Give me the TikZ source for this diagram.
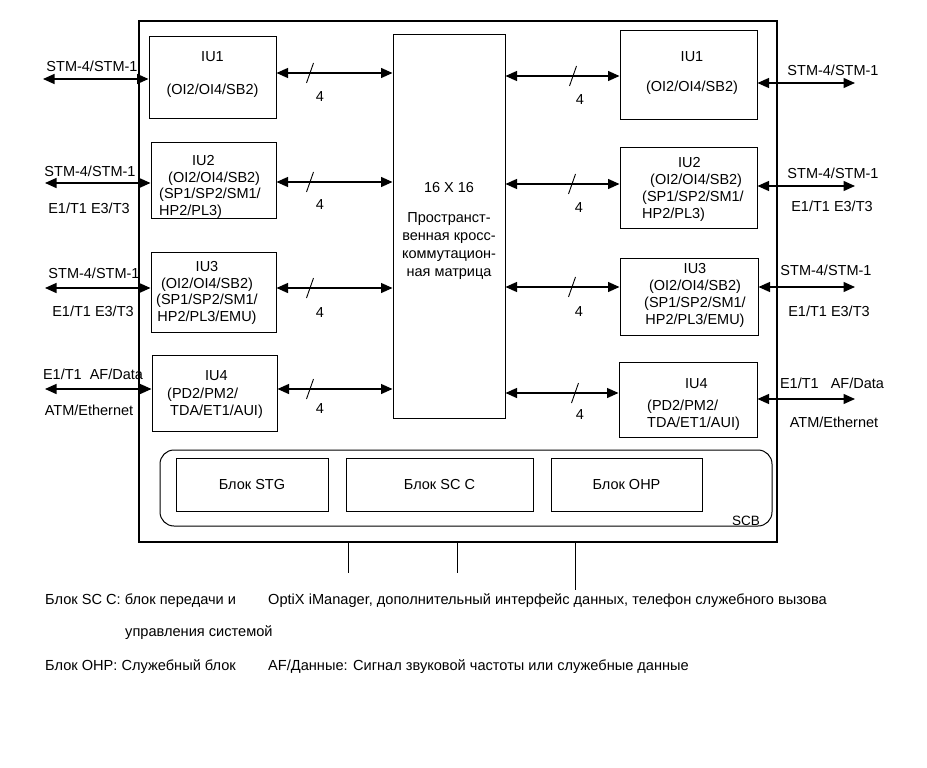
\documentclass[tikz,border=0pt]{standalone}
\usepackage{fontspec}
\setmainfont{Liberation Sans}
\usetikzlibrary{arrows.meta}
\begin{document}
\begin{tikzpicture}[x=1pt,y=-1pt,
  txt/.style={font=\fontsize{14.5}{17}\selectfont, inner sep=0pt},
  iutxt/.style={font=\fontsize{14.5}{16.8}\selectfont, inner sep=0pt},
  ftxt/.style={font=\fontsize{14.6}{17}\selectfont, inner sep=0pt, anchor=west},
  iubox/.style={draw, line width=1pt, inner sep=0pt},
  blk/.style={draw, line width=1pt, inner sep=0pt, font=\fontsize{14.5}{17}\selectfont},
  arr/.style={line width=1.3pt, {Triangle[length=11.5pt,width=10pt]}-{Triangle[length=11.5pt,width=10pt]}},
  slash/.style={line width=0.9pt},
  thin line/.style={line width=0.7pt}
]
\useasboundingbox (0,0) rectangle (927,768);

% outer frame
\node[draw, line width=1.4pt, minimum width=638pt, minimum height=521pt, inner sep=0pt] (outer) at (458,281.5) {};

% left interface units
\node[iubox, minimum width=127pt, minimum height=81pt] (L1) at (212.5,77.5) {};
\node[iubox, minimum width=125pt, minimum height=76pt] (L2) at (213.5,180) {};
\node[iubox, minimum width=125pt, minimum height=80pt] (L3) at (213.5,292) {};
\node[iubox, minimum width=125pt, minimum height=76pt] (L4) at (214.5,393) {};
\node[iutxt, align=center] (L1t) at (L1.center |- 0,74.5) {IU1\\[16pt](OI2/OI4/SB2)};
\node[iutxt, align=left, anchor=west] (L2t) at (159,187) {\hspace*{33pt}IU2\\\hspace*{9pt}(OI2/OI4/SB2)\\(SP1/SP2/SM1/\\HP2/PL3)};
\node[iutxt, align=center] (L3t) at (207,293) {IU3\\(OI2/OI4/SB2)\\(SP1/SP2/SM1/\\HP2/PL3/EMU)};
\node[iutxt, align=left, anchor=west] (L4t) at (167,394.5) {\hspace*{38pt}IU4\\[2pt](PD2/PM2/\\\hspace*{3pt}TDA/ET1/AUI)};

% matrix
\node[iubox, minimum width=112pt, minimum height=383pt] (M) at (449,226.5) {};
\node[align=center, inner sep=0pt, font=\fontsize{14.5}{18}\selectfont] (Mt) at (449,230.5) {16 X 16\\[12pt]Пространст-\\венная кросс-\\коммутацион-\\ная матрица};

% right interface units
\node[iubox, minimum width=137pt, minimum height=88pt] (R1) at (688.5,75) {};
\node[iubox, minimum width=137pt, minimum height=81pt] (R2) at (688.5,187.5) {};
\node[iubox, minimum width=138pt, minimum height=77pt] (R3) at (689,296.5) {};
\node[iubox, minimum width=138pt, minimum height=75pt] (R4) at (688,399.5) {};
\node[iutxt, align=center] (R1t) at (692,73) {IU1\\[13pt](OI2/OI4/SB2)};
\node[iutxt, align=left, anchor=west] (R2t) at (642,189.5) {\hspace*{36pt}IU2\\\hspace*{8pt}(OI2/OI4/SB2)\\(SP1/SP2/SM1/\\HP2/PL3)};
\node[iutxt, align=center] (R3t) at (695,295.5) {IU3\\(OI2/OI4/SB2)\\(SP1/SP2/SM1/\\HP2/PL3/EMU)};
\node[iutxt, align=left, anchor=west] (R4t) at (647,404.5) {\hspace*{38pt}IU4\\[5pt](PD2/PM2/\\TDA/ET1/AUI)};

% SCB
\node[draw, line width=1pt, rounded corners=14pt, minimum width=612pt, minimum height=76pt, inner sep=0pt] (SCB) at (466,488) {};
\node[font=\fontsize{13.5}{16}\selectfont, inner sep=0pt] (scbl) at (746,521) {SCB};
\node[blk, minimum width=152pt, minimum height=53pt] (STG) at (252,484.5) {Блок STG};
\node[blk, minimum width=187pt, minimum height=53pt] (SCC) at (439.5,484.5) {Блок SC C};
\node[blk, minimum width=151pt, minimum height=53pt] (OHP) at (626.5,484.5) {Блок OHP};

% left external arrows
\coordinate (xL1) at (43,79);
\coordinate (xL2) at (45,183);
\coordinate (xL3) at (45,288);
\coordinate (xL4) at (45,389);
\draw[arr] (xL1) -- (xL1 -| L1.west);
\draw[arr] (xL2) -- (xL2 -| L2.west);
\draw[arr] (xL3) -- (xL3 -| L3.west);
\draw[arr] (xL4) -- (xL4 -| L4.west);
\node[txt] (lt1) at (92,66) {STM-4/STM-1};
\node[txt] (lt2) at (90,171) {STM-4/STM-1};
\node[txt] (lb2) at (89,208) {E1/T1 E3/T3};
\node[txt] (lt3) at (94,273) {STM-4/STM-1};
\node[txt] (lb3) at (93,311) {E1/T1 E3/T3};
\node[txt] (lt4) at (93,374) {E1/T1\ \ AF/Data};
\node[txt] (lb4) at (89,410) {ATM/Ethernet};

% right external arrows
\coordinate (xR1) at (855,83);
\coordinate (xR2) at (855,186);
\coordinate (xR3) at (855,287);
\coordinate (xR4) at (855,399);
\draw[arr] (R1.east |- xR1) -- (xR1);
\draw[arr] (R2.east |- xR2) -- (xR2);
\draw[arr] (R3.east |- xR3) -- (xR3);
\draw[arr] (R4.east |- xR4) -- (xR4);
\node[txt] (rt1) at (833,70) {STM-4/STM-1};
\node[txt] (rt2) at (833,173) {STM-4/STM-1};
\node[txt] (rb2) at (832,206) {E1/T1 E3/T3};
\node[txt] (rt3) at (826,270) {STM-4/STM-1};
\node[txt] (rb3) at (829,311) {E1/T1 E3/T3};
\node[txt] (rt4) at (832,383) {E1/T1\ \ \ AF/Data};
\node[txt] (rb4) at (834,422) {ATM/Ethernet};

% inner left arrows
\coordinate (s1) at (310,73);
\coordinate (s2) at (310,182);
\coordinate (s3) at (310,288);
\coordinate (s4) at (310,389);
\foreach \i/\b in {1/L1,2/L2,3/L3,4/L4}{
  \draw[arr] (\b.east |- s\i) -- (M.west |- s\i);
  \draw[slash] ([shift={(-3.5,10)}]s\i) -- ([shift={(3.5,-10)}]s\i);
}
\node[txt] (f1) at (320,97) {4};
\node[txt] (f2) at (320,205) {4};
\node[txt] (f3) at (320,313) {4};
\node[txt] (f4) at (320,409) {4};

% inner right arrows
\coordinate (t1) at (573,76);
\coordinate (t2) at (572,184);
\coordinate (t3) at (572,287);
\coordinate (t4) at (575,393);
\foreach \i/\b in {1/R1,2/R2,3/R3,4/R4}{
  \draw[arr] (M.east |- t\i) -- (\b.west |- t\i);
  \draw[slash] ([shift={(-3.5,10)}]t\i) -- ([shift={(3.5,-10)}]t\i);
}
\node[txt] (g1) at (580,100) {4};
\node[txt] (g2) at (579,208) {4};
\node[txt] (g3) at (579,312) {4};
\node[txt] (g4) at (580,415) {4};

% lines down from frame
\coordinate (v1) at (348,573);
\coordinate (v2) at (457,573);
\coordinate (v3) at (575,590);
\draw[thin line] (outer.south -| v1) -- (v1);
\draw[thin line] (outer.south -| v2) -- (v2);
\draw[thin line] (outer.south -| v3) -- (v3);

% footer
\node[ftxt] (c1) at (45,601) {Блок SC C: блок передачи и};
\node[ftxt] (c2) at (268,601) {OptiX iManager, дополнительный интерфейс данных, телефон служебного вызова};
\node[ftxt] (c3) at (125,633) {управления системой};
\node[ftxt] (c4) at (45,667) {Блок OHP: Служебный блок};
\node[ftxt] (c5) at (268,667) {AF/Данные: Сигнал звуковой частоты или служебные данные};
\end{tikzpicture}
\end{document}
